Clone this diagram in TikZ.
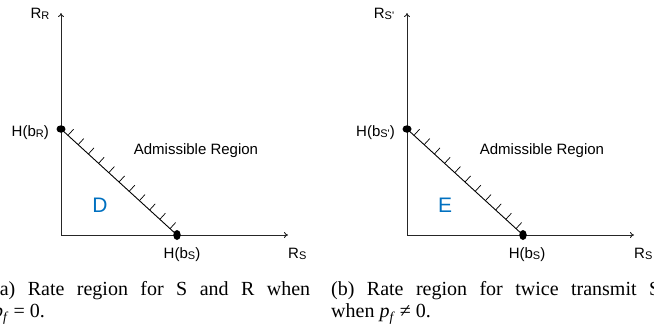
\documentclass[tikz,border=0pt]{standalone}
\usepackage{fontspec}
\setmainfont{Liberation Serif}
\newfontfamily\sansf{Liberation Sans}
\usetikzlibrary{arrows.meta,calc,shapes.geometric}
\definecolor{dblue}{RGB}{0,112,192}
\newcommand\subl[1]{\raisebox{-1.8pt}{\fontsize{11}{11}\selectfont #1}}
\newcommand\subf{\raisebox{-4pt}{\fontsize{13.5}{13.5}\selectfont\textit{f}}}
\begin{document}
\begin{tikzpicture}[x=1pt,y={(0pt,-1pt)},
  lab/.style={font=\sansf\fontsize{15}{15}\selectfont, inner sep=0pt},
  axis/.style={line width=0.9pt, draw=black!85, -{To[length=4pt,width=6pt]}},
  dotA/.style={ellipse, fill=black, inner sep=0pt, minimum width=9pt, minimum height=7.5pt},
  dotB/.style={ellipse, fill=black, inner sep=0pt, minimum width=7.5pt, minimum height=10pt},
  hyp/.style={line width=0.9pt},
  hatch/.style={line width=0.7pt},
  big/.style={font=\sansf\fontsize{21}{21}\selectfont, text=dblue, inner sep=0pt},
  captxt/.style={font=\fontsize{20}{22}\selectfont, inner sep=0pt, anchor=base west}]
\useasboundingbox (0,0) rectangle (654,333);
\clip (0,0) rectangle (654,333);

% ---------- panel (a)
\coordinate (aO) at (61,235);
\coordinate (aY) at (61,13);
\coordinate (aX) at (288,235);
\draw[axis] (aO) -- (aY);
\draw[axis] (aO) -- (aX);
\node[dotA] (aA) at (61,129) {};
\node[dotB] (aB) at (177,235) {};
\draw[hyp] (aA.center) -- (aB.center);
\foreach \k in {0,...,10} {
  \pgfmathsetmacro\tt{0.06+0.088*\k}
  \draw[hatch] ($(aA.center)!\tt!(aB.center)$) -- ++(5.6,-6.1);
}
\node[lab, anchor=base] (aRR) at (40,18) {R\subl{R}};
\node[lab, anchor=base east] (aHR) at (49,136) {H(b\subl{R})};
\node[lab, anchor=base] (aAd) at (196,154) {Admissible Region};
\node[big] (aD) at (100,205) {D};
\node[lab, anchor=base] (aHS) at (182,258) {H(b\subl{S})};
\node[lab, anchor=base west] (aRS) at (288,258) {R\subl{S}};

% ---------- panel (b)
\coordinate (bO) at (407,235);
\coordinate (bY) at (407,13);
\coordinate (bX) at (634,235);
\draw[axis] (bO) -- (bY);
\draw[axis] (bO) -- (bX);
\node[dotA] (bA) at (407,129) {};
\node[dotB] (bB) at (523,235) {};
\draw[hyp] (bA.center) -- (bB.center);
\foreach \k in {0,...,10} {
  \pgfmathsetmacro\tt{0.06+0.088*\k}
  \draw[hatch] ($(bA.center)!\tt!(bB.center)$) -- ++(5.6,-6.1);
}
\node[lab, anchor=base] (bRS1) at (384,18) {R\subl{S'}};
\node[lab, anchor=base east] (bHS1) at (395,136) {H(b\subl{S'})};
\node[lab, anchor=base] (bAd) at (542,154) {Admissible Region};
\node[big] (bE) at (445,205) {E};
\node[lab, anchor=base] (bHS) at (527,258) {H(b\subl{S})};
\node[lab, anchor=base west] (bRS) at (634,258) {R\subl{S}};

% ---------- captions
\node[captxt] (capa1) at (-7,295.5) {\makebox[317pt][s]{(a) Rate region for S and R when}};
\node[captxt] (capa2) at (-7,317.5) {\textit{p}\subf\hspace{5pt}=\hspace{5pt}0.};
\node[captxt] (capb1) at (331,295.5) {\makebox[329pt][s]{(b) Rate region for twice transmit S}};
\node[captxt] (capb2) at (331,317.5) {when \textit{p}\subf\hspace{5pt}≠\hspace{5pt}0.};
\end{tikzpicture}
\end{document}
